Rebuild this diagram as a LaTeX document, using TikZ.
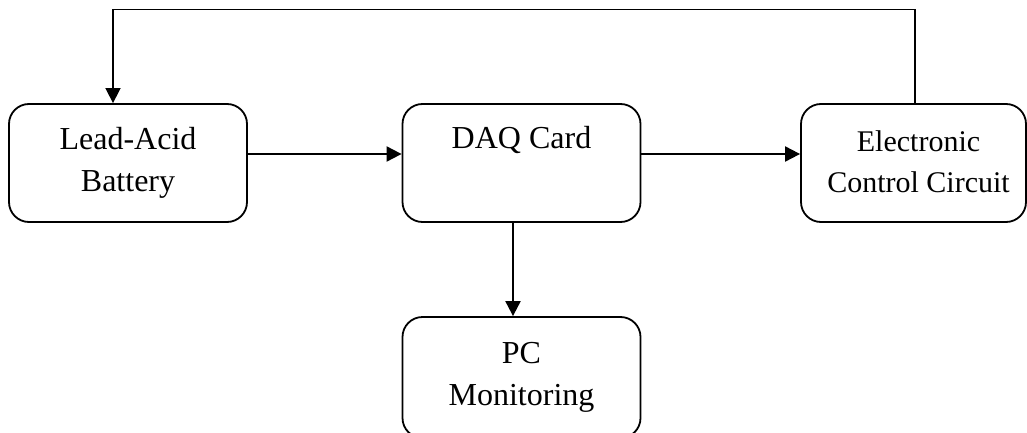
\documentclass[tikz,border=0pt]{standalone}
\usepackage{fontspec}
\setmainfont{Liberation Serif}
\usetikzlibrary{arrows.meta}
\begin{document}
\begin{tikzpicture}[x=1pt,y=-1pt,
  box/.style={draw, line width=1.8pt, rounded corners=20pt, inner sep=0pt, align=center,
    font=\fontsize{32}{42}\selectfont},
  lbl/.style={inner sep=0pt, font=\fontsize{32}{42}\selectfont},
  conn/.style={line width=2pt, -{Triangle[length=15pt,width=15pt]}}]
\useasboundingbox (0,0) rectangle (1027,433);
\node[box, minimum width=238pt, minimum height=118pt] (bat) at (128,163) {Lead-Acid\\Battery};
\node[box, minimum width=238pt, minimum height=118pt] (daq) at (521.5,163) {};
\node[lbl, anchor=base] (daqtxt) at ([yshift=-45pt]daq.north) {DAQ Card};
\node[box, minimum width=225pt, minimum height=118pt] (ecc) at (913.5,163) {};
\node[lbl, align=center, font=\fontsize{30}{41}\selectfont] (ecctxt) at ([xshift=5pt,yshift=1pt]ecc.center) {Electronic\\Control Circuit};
\node[box, minimum width=238pt, minimum height=121pt] (pc) at (521.5,377.5) {PC\\Monitoring};
\coordinate (r1) at (0,154);
\coordinate (c1) at (513,0);
\coordinate (c2) at (915,9.5);
\coordinate (c3) at (113,0);
\draw[conn] (bat.east |- r1) -- (daq.west |- r1);
\draw[conn] (daq.east |- r1) -- (ecc.west |- r1);
\draw[conn] (daq.south -| c1) -- (pc.north -| c1);
\draw[conn, line width=1.6pt] (ecc.north -| c2) |- (c3 |- c2) -- (bat.north -| c3);
\end{tikzpicture}
\end{document}
